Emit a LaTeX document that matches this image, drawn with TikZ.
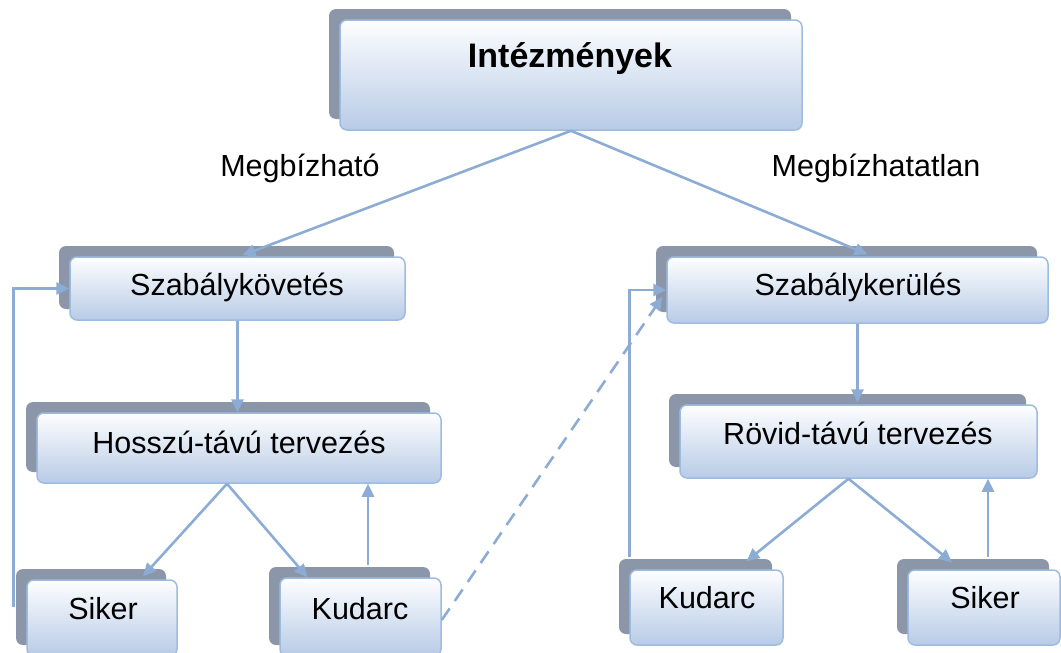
\documentclass[tikz,border=0pt]{standalone}
\usepackage{fontspec}
\setmainfont{Liberation Sans}
\usetikzlibrary{shadows,calc,arrows.meta}
\definecolor{linec}{RGB}{140,172,214}
\definecolor{shadc}{RGB}{139,151,168}
\definecolor{boxtop}{RGB}{253,254,255}
\definecolor{boxbot}{RGB}{184,203,230}
\definecolor{edgec}{RGB}{158,188,224}

\tikzset{
  box/.style={draw=edgec, line width=1.5pt, rounded corners=7pt,
    top color=boxtop, bottom color=boxbot, inner sep=0pt,
    general shadow={fill=shadc, draw=none, rounded corners=7pt, shadow xshift=-11pt, shadow yshift=11pt}},
  lbl/.style={anchor=base, inner sep=0pt, text=black, font=\fontsize{30.5}{36}\selectfont},
  conn/.style={draw=linec, line width=2.6pt, -{Triangle[length=13pt,width=12pt]}},
}

\begin{document}
\begin{tikzpicture}[x=1pt,y=-1pt]
\useasboundingbox (0,0) rectangle (1061,653);

% boxes
\node[box, minimum width=462pt, minimum height=110pt] (top) at (571,75) {};
\node[box, minimum width=335pt, minimum height=63pt] (skov) at (237.5,288.5) {};
\node[box, minimum width=404pt, minimum height=70pt] (hossz) at (239,448) {};
\node[box, minimum width=150pt, minimum height=76pt] (sikerL) at (102,618) {};
\node[box, minimum width=161pt, minimum height=78pt] (kudL) at (360.5,617) {};
\node[box, minimum width=381pt, minimum height=66pt] (sker) at (857.5,290) {};
\node[box, minimum width=357pt, minimum height=73pt] (rovid) at (858.5,441.5) {};
\node[box, minimum width=153pt, minimum height=75pt] (kudR) at (706.5,607.5) {};
\node[box, minimum width=152pt, minimum height=75pt] (sikerR) at (984,607.5) {};

% box texts
\node[lbl, font=\bfseries\fontsize{34}{40}\selectfont] (tTop) at (570,67) {Intézmények};
\node[lbl] (tSkov) at (237,295) {Szabálykövetés};
\node[lbl] (tHossz) at (239,453) {Hosszú-távú tervezés};
\node[lbl] (tSikerL) at (103,619) {Siker};
\node[lbl] (tKudL) at (360,619) {Kudarc};
\node[lbl] (tSker) at (858,295) {Szabálykerülés};
\node[lbl] (tRovid) at (858,444) {Rövid-távú tervezés};
\node[lbl] (tKudR) at (707,608) {Kudarc};
\node[lbl] (tSikerR) at (985,608) {Siker};

% branch labels
\node[lbl] (lMeg) at (300,176) {Megbízható};
\node[lbl] (lMegn) at (876,176) {Megbízhatatlan};

% connectors, left branch
\draw[conn] (top.south) -- ($(skov.north)+(5,-1)$);
\draw[conn] (skov.south) -- (skov.south |- hossz.north);
\draw[conn] ($(hossz.south)+(-12,0)$) -- ($(sikerL.north)+(41,-3)$);
\draw[conn] ($(hossz.south)+(-12,0)$) -- ($(kudL.north)+(-53,0)$);
\coordinate (kup) at ($(kudL.north)+(7.5,-12)$);
\draw[conn] (kup) -- (kup |- hossz.south);
\coordinate (lloop) at ($(sikerL.west)+(-13,-11)$);
\draw[conn] (lloop) -- (lloop |- skov.west) -- (skov.west);

% connectors, right branch
\draw[conn] (top.south) -- ($(sker.north)+(10,-2)$);
\draw[conn] (sker.south) -- ($(sker.south |- rovid.north)+(0,-2)$);
\coordinate (rloop) at ($(kudR.north west)+(0,-12)$);
\draw[conn] (rloop) -- (rloop |- sker.west) -- (sker.west);
\draw[conn, dash pattern=on 14pt off 9pt] ($(kudL.east)+(0,3)$) -- ($(sker.west)+(-4,7)$);
\draw[conn] ($(rovid.south)+(-10,0)$) -- ($(kudR.north)+(40,-8)$);
\draw[conn] ($(rovid.south)+(-10,0)$) -- ($(sikerR.north)+(-32,-7)$);
\coordinate (sup) at ($(sikerR.north)+(4,-12)$);
\draw[conn] (sup) -- (sup |- rovid.south);
\end{tikzpicture}
\end{document}
